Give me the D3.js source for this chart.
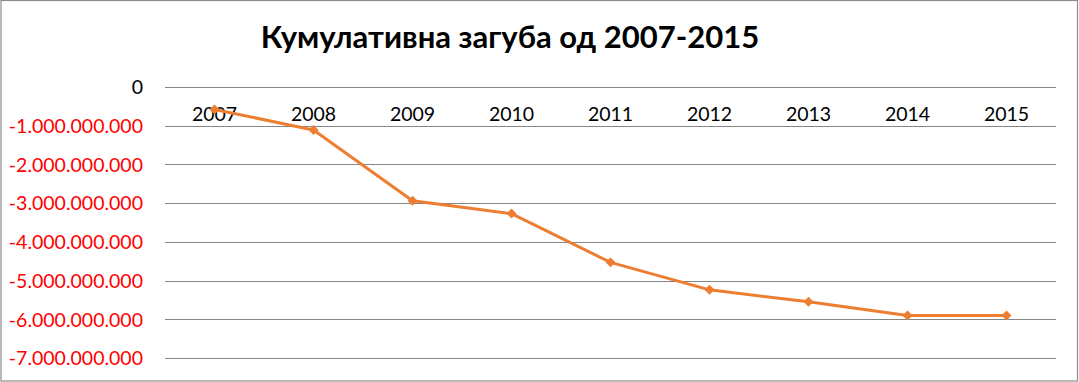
<!DOCTYPE html>
<html><head><meta charset="utf-8">
<script src="https://cdn.jsdelivr.net/npm/d3@7"></script>
<style>
html,body{margin:0;padding:0;background:#fff;}
svg{display:block;}
</style></head>
<body>
<svg id="chart" width="1079" height="382"></svg>
<script>
const title = "Кумулативна загуба од 2007-2015";
const years = ["2007","2008","2009","2010","2011","2012","2013","2014","2015"];
const losses = [-580000000,-1110000000,-2940000000,-3270000000,-4530000000,-5240000000,-5550000000,-5900000000,-5900000000];
const yTicks = [0,-1000000000,-2000000000,-3000000000,-4000000000,-5000000000,-6000000000,-7000000000];

(function(){
const svg = d3.select("#chart");
const pLeft = 165, pRight = 1056, pTop = 87, pBottom = 358;

svg.append("rect").attr("x",1).attr("y",0.5).attr("width",1076.5).attr("height",380.5)
  .attr("fill","#fff").attr("stroke","#8c8c8c").attr("stroke-width",1.2);

const x = d3.scaleBand().domain(years).range([pLeft,pRight]);
const y = d3.scaleLinear().domain([-7000000000,0]).range([pBottom,pTop]);

const fmt = v => v===0 ? "0" : "-" + d3.format(",")(Math.abs(v)).replace(/,/g,".");

svg.append("g").selectAll("line").data(yTicks).join("line")
  .attr("x1",pLeft).attr("x2",pRight)
  .attr("y1",d=>Math.round(y(d))+0.5).attr("y2",d=>Math.round(y(d))+0.5)
  .attr("stroke","#868686").attr("stroke-width",1);

const yAxis = d3.axisLeft(y).tickValues(yTicks).tickFormat(fmt).tickSize(0).tickPadding(0);
const ga = svg.append("g").attr("transform",`translate(143,0)`).call(yAxis);
ga.select(".domain").remove();
ga.selectAll("text")
  .attr("font-family","Lato, 'Open Sans', sans-serif").attr("font-size",19.5)
  .attr("fill",d=>d===0?"#000":"#ff0000").attr("dy","0.35em");

const xAxis = d3.axisBottom(x).tickSize(0).tickPadding(0);
const gx = svg.append("g").attr("transform",`translate(0,${y(0)})`).call(xAxis);
gx.select(".domain").remove();
gx.selectAll("text")
  .attr("font-family","Lato, 'Open Sans', sans-serif").attr("font-size",19.5)
  .attr("fill","#000").attr("dy","1.72em");

const cx = i => x(years[i]) + x.bandwidth()/2;
const line = d3.line().x((d,i)=>cx(i)).y(d=>y(d));
svg.append("path").datum(losses).attr("d",line)
  .attr("fill","none").attr("stroke","#ed7d31").attr("stroke-width",3).attr("stroke-linejoin","round");

svg.append("g").selectAll("path").data(losses).join("path")
  .attr("d",d3.symbol(d3.symbolSquare, 50)())
  .attr("transform",(d,i)=>`translate(${cx(i)},${y(d)}) rotate(45)`)
  .attr("fill","#ed7d31");

svg.append("text").attr("x",510).attr("y",48).attr("text-anchor","middle")
  .attr("font-family","Lato, 'Open Sans', sans-serif").attr("font-weight","bold").attr("font-size",31)
  .attr("fill","#000").text(title);
})();
</script>
</body></html>
